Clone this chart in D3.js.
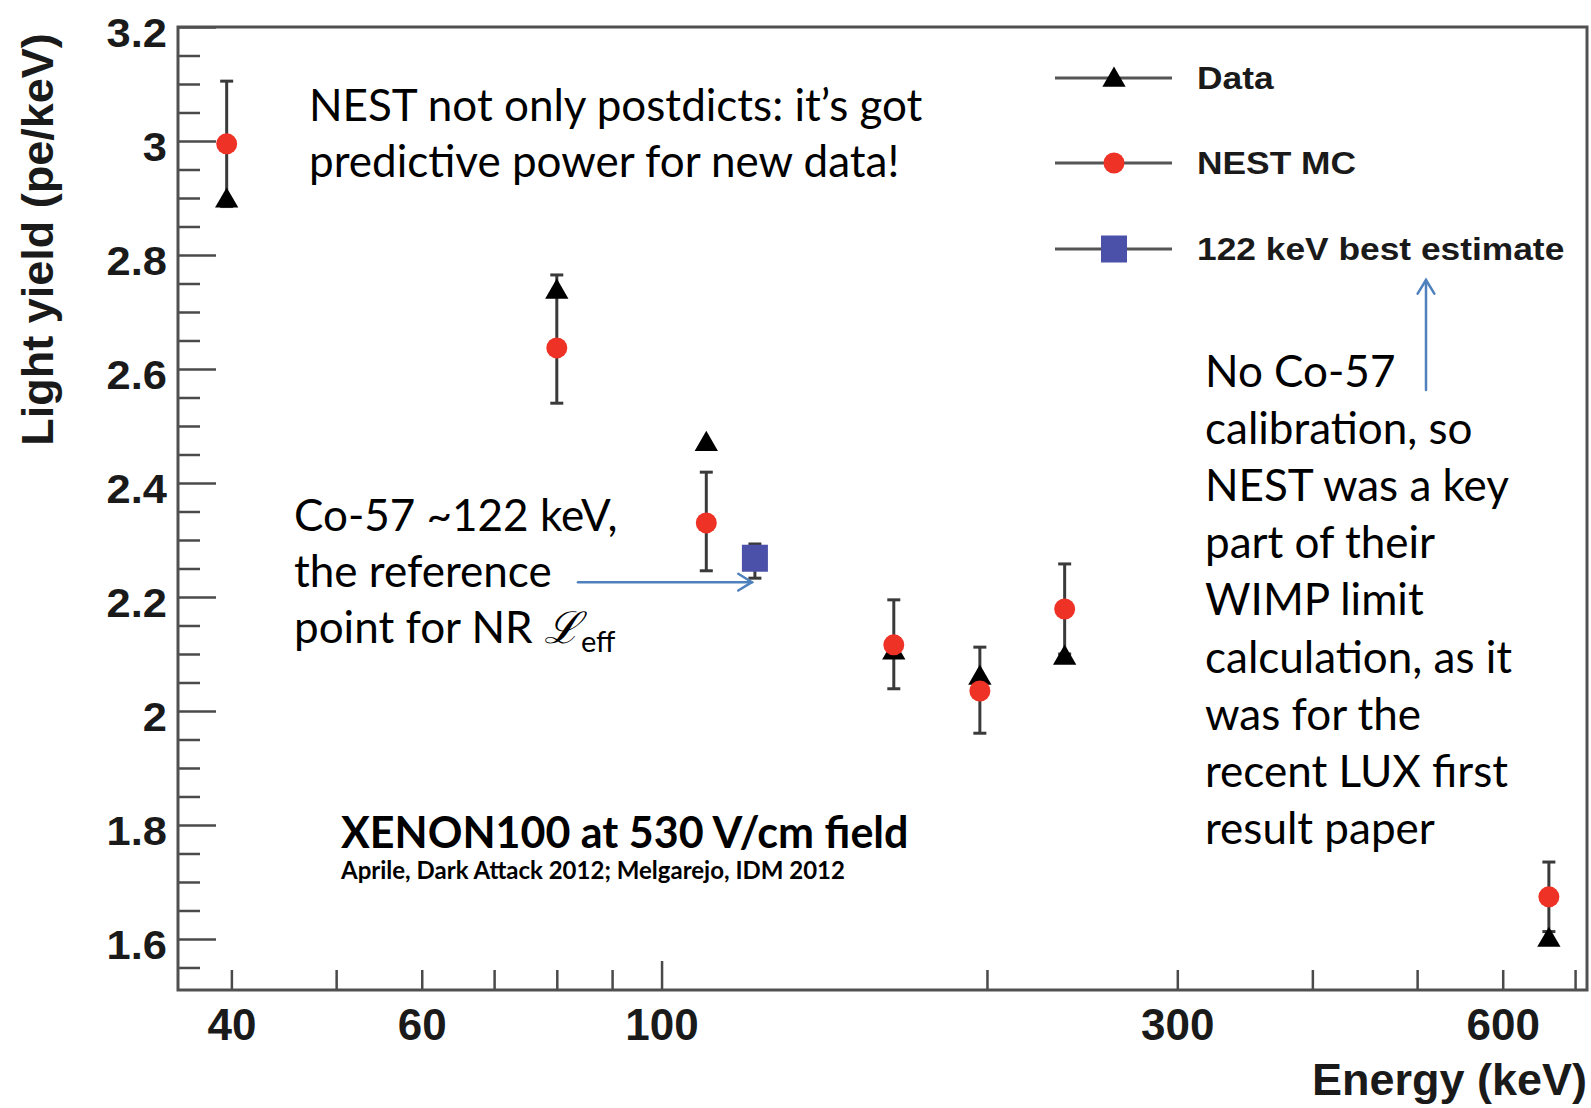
<!DOCTYPE html>
<html>
<head>
<meta charset="utf-8">
<script src="https://cdn.jsdelivr.net/npm/d3@7"></script>
<style>
  html, body { margin: 0; padding: 0; background: #fff; }
  svg { display: block; }
  .tick text { font-family: "Liberation Sans", Arial, sans-serif; font-weight: bold; fill: #1a1a1a; }
  .ann { font-family: Lato, "Open Sans", sans-serif; fill: #000; }
</style>
</head>
<body>
<svg id="chart" width="1591" height="1108"></svg>
<script>
// ---- data ----
const energies   = [39.6, 80, 110, 164, 197, 236, 662];          // keV
const dataLY     = [2.895, 2.735, 2.468, 2.102, 2.058, 2.093, 1.598];
const nestLY     = [2.995, 2.637, 2.330, 2.116, 2.035, 2.179, 1.674];
const nestErrLo  = [2.885, 2.540, 2.246, 2.039, 1.961, 2.100, 1.613];
const nestErrHi  = [3.105, 2.765, 2.419, 2.195, 2.112, 2.258, 1.735];
const bestE      = [122];
const bestLY     = [2.268];
const bestErrLo  = [2.233];
const bestErrHi  = [2.293];

const xMinorTicks = [40, 50, 60, 70, 80, 90, 200, 300, 400, 500, 600, 700];
const xMajorTicks = [100];
const xTickLabels = [40, 60, 100, 300, 600];
const yMajorTicks = [1.6, 1.8, 2.0, 2.2, 2.4, 2.6, 2.8, 3.0, 3.2];
const yTickLabels = ["1.6", "1.8", "2", "2.2", "2.4", "2.6", "2.8", "3", "3.2"];
const yMinorTicks = [1.55, 1.65, 1.7, 1.75, 1.85, 1.9, 1.95, 2.05, 2.1, 2.15, 2.25, 2.3, 2.35,
                     2.45, 2.5, 2.55, 2.65, 2.7, 2.75, 2.85, 2.9, 2.95, 3.05, 3.1, 3.15];
const legendLabels = ["Data", "NEST MC", "122 keV best estimate"];

// ---- layout ----
const L = 178, R = 1587, T = 27, B = 990;
const svg = d3.select("#chart");
const x = d3.scaleLog().domain([35.7, 718]).range([L, R]);
const y = d3.scaleLinear().domain([1.5105, 3.2]).range([B, T]);

const axisColor = "#4a4a4a";

// y axis minor/major ticks (pointing inward)
svg.append("g").attr("transform", `translate(${L},0)`)
  .call(d3.axisLeft(y).tickValues(yMinorTicks).tickSizeInner(-22).tickSizeOuter(0).tickFormat(""))
  .call(g => g.select(".domain").remove())
  .call(g => g.selectAll("line").attr("stroke", axisColor).attr("stroke-width", 2.5));
svg.append("g").attr("transform", `translate(${L},0)`)
  .call(d3.axisLeft(y).tickValues(yMajorTicks).tickSizeInner(-38).tickSizeOuter(0).tickPadding(11)
        .tickFormat((d, i) => yTickLabels[i]))
  .call(g => g.select(".domain").remove())
  .call(g => g.selectAll("line").attr("stroke", axisColor).attr("stroke-width", 2.5))
  .call(g => g.selectAll("text").attr("font-size", 41).attr("dy", 19)
              .attr("transform", "scale(1.06,1)").attr("x", -11 / 1.06));

// x axis ticks
svg.append("g").attr("transform", `translate(0,${B})`)
  .call(d3.axisBottom(x).tickValues(xMinorTicks).tickSizeInner(-20).tickSizeOuter(0).tickFormat(""))
  .call(g => g.select(".domain").remove())
  .call(g => g.selectAll("line").attr("stroke", axisColor).attr("stroke-width", 2.5));
svg.append("g").attr("transform", `translate(0,${B})`)
  .call(d3.axisBottom(x).tickValues(xMajorTicks).tickSizeInner(-29).tickSizeOuter(0).tickFormat(""))
  .call(g => g.select(".domain").remove())
  .call(g => g.selectAll("line").attr("stroke", axisColor).attr("stroke-width", 2.5));
svg.append("g").attr("transform", `translate(0,${B})`)
  .call(d3.axisBottom(x).tickValues(xTickLabels).tickSize(0).tickPadding(19).tickFormat(d3.format("d")))
  .call(g => g.select(".domain").remove())
  .call(g => g.selectAll("text").attr("font-size", 44));

// frame
svg.append("rect").attr("x", L).attr("y", T).attr("width", R - L).attr("height", B - T)
  .attr("fill", "none").attr("stroke", "#505050").attr("stroke-width", 3);

// axis titles
svg.append("text")
  .attr("transform", `translate(53,${(32 + 447) / 2}) rotate(-90)`)
  .attr("text-anchor", "middle")
  .attr("font-family", "Liberation Sans, Arial, sans-serif").attr("font-weight", "bold")
  .attr("font-size", 45).attr("fill", "#1a1a1a")
  .text("Light yield (pe/keV)");
svg.append("text")
  .attr("x", 1587).attr("y", 1095).attr("text-anchor", "end")
  .attr("font-family", "Liberation Sans, Arial, sans-serif").attr("font-weight", "bold")
  .attr("font-size", 45).attr("fill", "#1a1a1a")
  .text("Energy (keV)");

// ---- marks ----
const errColor = "#3a3a3a";
const capW = 13;
const nest = energies.map((e, i) => ({ e, v: nestLY[i], lo: nestErrLo[i], hi: nestErrHi[i], d: dataLY[i] }));
const best = bestE.map((e, i) => ({ e, v: bestLY[i], lo: bestErrLo[i], hi: bestErrHi[i] }));

function errorBars(sel, rows) {
  const g = sel.append("g");
  const r = g.selectAll("g").data(rows).join("g");
  r.append("line").attr("x1", d => x(d.e)).attr("x2", d => x(d.e))
    .attr("y1", d => y(d.lo)).attr("y2", d => y(d.hi))
    .attr("stroke", errColor).attr("stroke-width", 3);
  r.append("line").attr("x1", d => x(d.e) - capW / 2).attr("x2", d => x(d.e) + capW / 2)
    .attr("y1", d => y(d.hi)).attr("y2", d => y(d.hi))
    .attr("stroke", errColor).attr("stroke-width", 3);
  r.append("line").attr("x1", d => x(d.e) - capW / 2).attr("x2", d => x(d.e) + capW / 2)
    .attr("y1", d => y(d.lo)).attr("y2", d => y(d.lo))
    .attr("stroke", errColor).attr("stroke-width", 3);
}
errorBars(svg, nest);
errorBars(svg, best);

const tri = d3.symbol(d3.symbolTriangle, 235);
const red = "#ee3226", blue = "#4b50a8";

svg.append("g").selectAll("path").data(nest).join("path")
  .attr("d", tri).attr("transform", d => `translate(${x(d.e)},${y(d.d)})`).attr("fill", "#000");
svg.append("g").selectAll("circle").data(nest).join("circle")
  .attr("cx", d => x(d.e)).attr("cy", d => y(d.v)).attr("r", 10.5).attr("fill", red);
svg.append("g").selectAll("rect").data(best).join("rect")
  .attr("x", d => x(d.e) - 13).attr("y", d => y(d.v) - 13.5).attr("width", 26).attr("height", 27)
  .attr("fill", blue);

// ---- legend ----
const legY = [78, 163, 249];
const lg = svg.append("g");
legendLabels.forEach((lab, i) => {
  lg.append("line").attr("x1", 1055).attr("x2", 1172).attr("y1", legY[i]).attr("y2", legY[i])
    .attr("stroke", "#555").attr("stroke-width", 3);
  if (i === 0) lg.append("path").attr("d", tri).attr("transform", `translate(1114,${legY[i] + 2})`).attr("fill", "#000");
  if (i === 1) lg.append("circle").attr("cx", 1114).attr("cy", legY[i]).attr("r", 10.5).attr("fill", red);
  if (i === 2) lg.append("rect").attr("x", 1101).attr("y", legY[i] - 13.5).attr("width", 26).attr("height", 27).attr("fill", blue);
  lg.append("text").attr("transform", `translate(1197,${legY[i] + 11}) scale(1.14,1)`)
    .attr("font-family", "Liberation Sans, Arial, sans-serif").attr("font-weight", "bold")
    .attr("font-size", 31).attr("fill", "#1a1a1a").text(lab);
});

// ---- annotations ----
const annSize = 44;
function lines(x0, y0, dy, arr, opts = {}) {
  arr.forEach((t, i) => {
    svg.append("text").attr("class", "ann").attr("x", x0).attr("y", y0 + i * dy)
      .attr("font-size", opts.size || annSize).attr("font-weight", opts.weight || "normal").text(t);
  });
}
lines(309, 121, 56, ["NEST not only postdicts: it\u2019s got", "predictive power for new data!"]);
lines(294, 531, 56, ["Co-57 ~122 keV,", "the reference"]);
const nr = svg.append("text").attr("class", "ann").attr("x", 294).attr("y", 643).attr("font-size", annSize);
nr.append("tspan").text("point for NR ");
nr.append("tspan").attr("font-family", "DejaVu Serif, serif").attr("font-style", "italic").text("\u2112");
nr.append("tspan").attr("font-size", 29).attr("dy", 9).text("eff");

lines(1205, 387, 57.1, ["No Co-57", "calibration, so", "NEST was a key", "part of their", "WIMP limit",
                        "calculation, as it", "was for the", "recent LUX first", "result paper"]);

svg.append("text").attr("class", "ann").attr("x", 341).attr("y", 848)
  .attr("font-size", 43).attr("font-weight", "bold").text("XENON100 at 530 V/cm field");
svg.append("text").attr("class", "ann").attr("x", 341).attr("y", 879)
  .attr("font-size", 24).attr("font-weight", "bold").text("Aprile, Dark Attack 2012; Melgarejo, IDM 2012");

// arrows
const arrowColor = "#4f81bd";
function arrow(x1, y1, x2, y2) {
  const g = svg.append("g").attr("stroke", arrowColor).attr("stroke-width", 2.5).attr("fill", "none")
    .attr("stroke-linecap", "round");
  g.append("line").attr("x1", x1).attr("y1", y1).attr("x2", x2).attr("y2", y2);
  const a = Math.atan2(y2 - y1, x2 - x1), h = 16, w = 0.55;
  g.append("polyline").attr("points", [
    [x2 - h * Math.cos(a - w), y2 - h * Math.sin(a - w)], [x2, y2],
    [x2 - h * Math.cos(a + w), y2 - h * Math.sin(a + w)]].map(p => p.join(",")).join(" "));
}
arrow(578, y(2.226), x(bestE[0]) - 3, y(2.226));
arrow(1426, 390, 1426, 280);
</script>
</body>
</html>
